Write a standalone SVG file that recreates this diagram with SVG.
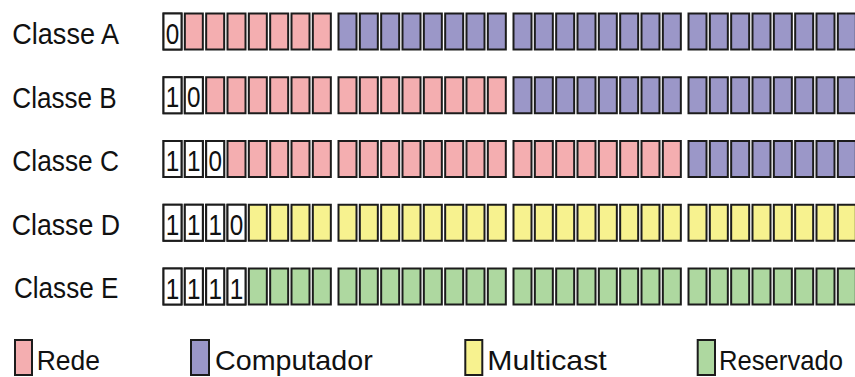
<svg xmlns="http://www.w3.org/2000/svg" xmlns:xlink="http://www.w3.org/1999/xlink" width="855" height="377" viewBox="0 0 855 377">
<style>
.cell{stroke:#1c1c1c;stroke-width:2;}
.pk{fill:#F4AEB0;}
.pu{fill:#9B97C8;}
.ye{fill:#F7F28F;}
.gr{fill:#AED8A0;}
.wh{fill:#ffffff;}
.lbl{font-family:"Liberation Sans",Arial,sans-serif;font-size:29px;fill:#111;}
.bit{font-family:"Liberation Sans",Arial,sans-serif;font-size:30px;fill:#111;text-anchor:middle;}
.leg{font-family:"Liberation Sans",Arial,sans-serif;font-size:28px;fill:#111;}
</style>
<defs>
<g id="oct">
<rect class="cell" x="1" y="1" width="18" height="36"/>
<rect class="cell" x="22.33" y="1" width="18" height="36"/>
<rect class="cell" x="43.67" y="1" width="18" height="36"/>
<rect class="cell" x="65" y="1" width="18" height="36"/>
<rect class="cell" x="86.33" y="1" width="18" height="36"/>
<rect class="cell" x="107.67" y="1" width="18" height="36"/>
<rect class="cell" x="129" y="1" width="18" height="36"/>
<rect class="cell" x="150.33" y="1" width="18" height="36"/>
</g>
</defs>
<rect width="855" height="377" fill="#ffffff"/>

<g id="classe-a">
<text class="lbl" x="12.3" y="43.5" textLength="106.7" lengthAdjust="spacingAndGlyphs">Classe A</text>
<use xlink:href="#oct" x="162.5" y="12.5" class="pk"/>
<use xlink:href="#oct" x="337.5" y="12.5" class="pu"/>
<use xlink:href="#oct" x="512.5" y="12.5" class="pu"/>
<use xlink:href="#oct" x="687.5" y="12.5" class="pu"/>
<rect class="cell wh" x="163.5" y="13.5" width="18" height="36"/>
<text class="bit" x="172.5" y="43.5" textLength="13.5" lengthAdjust="spacingAndGlyphs">0</text>
</g>

<g id="classe-b">
<text class="lbl" x="12.3" y="107.5" textLength="104.4" lengthAdjust="spacingAndGlyphs">Classe B</text>
<use xlink:href="#oct" x="162.5" y="76.25" class="pk"/>
<use xlink:href="#oct" x="337.5" y="76.25" class="pk"/>
<use xlink:href="#oct" x="512.5" y="76.25" class="pu"/>
<use xlink:href="#oct" x="687.5" y="76.25" class="pu"/>
<rect class="cell wh" x="163.5" y="77.25" width="18" height="36"/>
<rect class="cell wh" x="184.83" y="77.25" width="18" height="36"/>
<text class="bit" x="172.5" y="107.25" textLength="13.5" lengthAdjust="spacingAndGlyphs">1</text>
<text class="bit" x="193.83" y="107.25" textLength="13.5" lengthAdjust="spacingAndGlyphs">0</text>
</g>

<g id="classe-c">
<text class="lbl" x="12.3" y="171" textLength="106.7" lengthAdjust="spacingAndGlyphs">Classe C</text>
<use xlink:href="#oct" x="162.5" y="140" class="pk"/>
<use xlink:href="#oct" x="337.5" y="140" class="pk"/>
<use xlink:href="#oct" x="512.5" y="140" class="pk"/>
<use xlink:href="#oct" x="687.5" y="140" class="pu"/>
<rect class="cell wh" x="163.5" y="141" width="18" height="36"/>
<rect class="cell wh" x="184.83" y="141" width="18" height="36"/>
<rect class="cell wh" x="206.17" y="141" width="18" height="36"/>
<text class="bit" x="172.5" y="171" textLength="13.5" lengthAdjust="spacingAndGlyphs">1</text>
<text class="bit" x="193.83" y="171" textLength="13.5" lengthAdjust="spacingAndGlyphs">1</text>
<text class="bit" x="215.17" y="171" textLength="13.5" lengthAdjust="spacingAndGlyphs">0</text>
</g>

<g id="classe-d">
<text class="lbl" x="11.7" y="234.5" textLength="108.3" lengthAdjust="spacingAndGlyphs">Classe D</text>
<use xlink:href="#oct" x="162.5" y="203.75" class="ye"/>
<use xlink:href="#oct" x="337.5" y="203.75" class="ye"/>
<use xlink:href="#oct" x="512.5" y="203.75" class="ye"/>
<use xlink:href="#oct" x="687.5" y="203.75" class="ye"/>
<rect class="cell wh" x="163.5" y="204.75" width="18" height="36"/>
<rect class="cell wh" x="184.83" y="204.75" width="18" height="36"/>
<rect class="cell wh" x="206.17" y="204.75" width="18" height="36"/>
<rect class="cell wh" x="227.5" y="204.75" width="18" height="36"/>
<text class="bit" x="172.5" y="234.75" textLength="13.5" lengthAdjust="spacingAndGlyphs">1</text>
<text class="bit" x="193.83" y="234.75" textLength="13.5" lengthAdjust="spacingAndGlyphs">1</text>
<text class="bit" x="215.17" y="234.75" textLength="13.5" lengthAdjust="spacingAndGlyphs">1</text>
<text class="bit" x="236.5" y="234.75" textLength="13.5" lengthAdjust="spacingAndGlyphs">0</text>
</g>

<g id="classe-e">
<text class="lbl" x="14" y="298.3" textLength="104.3" lengthAdjust="spacingAndGlyphs">Classe E</text>
<use xlink:href="#oct" x="162.5" y="267.5" class="gr"/>
<use xlink:href="#oct" x="337.5" y="267.5" class="gr"/>
<use xlink:href="#oct" x="512.5" y="267.5" class="gr"/>
<use xlink:href="#oct" x="687.5" y="267.5" class="gr"/>
<rect class="cell wh" x="163.5" y="268.5" width="18" height="36"/>
<rect class="cell wh" x="184.83" y="268.5" width="18" height="36"/>
<rect class="cell wh" x="206.17" y="268.5" width="18" height="36"/>
<rect class="cell wh" x="227.5" y="268.5" width="18" height="36"/>
<text class="bit" x="172.5" y="298.5" textLength="13.5" lengthAdjust="spacingAndGlyphs">1</text>
<text class="bit" x="193.83" y="298.5" textLength="13.5" lengthAdjust="spacingAndGlyphs">1</text>
<text class="bit" x="215.17" y="298.5" textLength="13.5" lengthAdjust="spacingAndGlyphs">1</text>
<text class="bit" x="236.5" y="298.5" textLength="13.5" lengthAdjust="spacingAndGlyphs">1</text>
</g>

<g id="legenda">
<g id="leg-rede">
<rect class="cell pk" x="15" y="340" width="17" height="35"/>
<text class="leg" x="36.7" y="370" textLength="63.3" lengthAdjust="spacingAndGlyphs">Rede</text>
</g>
<g id="leg-computador">
<rect class="cell pu" x="191" y="340" width="18" height="35"/>
<text class="leg" x="215" y="370" textLength="157.7" lengthAdjust="spacingAndGlyphs">Computador</text>
</g>
<g id="leg-multicast">
<rect class="cell ye" x="465.3" y="340" width="17" height="35"/>
<text class="leg" x="487.3" y="370" textLength="119.4" lengthAdjust="spacingAndGlyphs">Multicast</text>
</g>
<g id="leg-reservado">
<rect class="cell gr" x="697.7" y="340" width="17.3" height="35"/>
<text class="leg" x="719" y="370" textLength="124" lengthAdjust="spacingAndGlyphs">Reservado</text>
</g>
</g>
</svg>
